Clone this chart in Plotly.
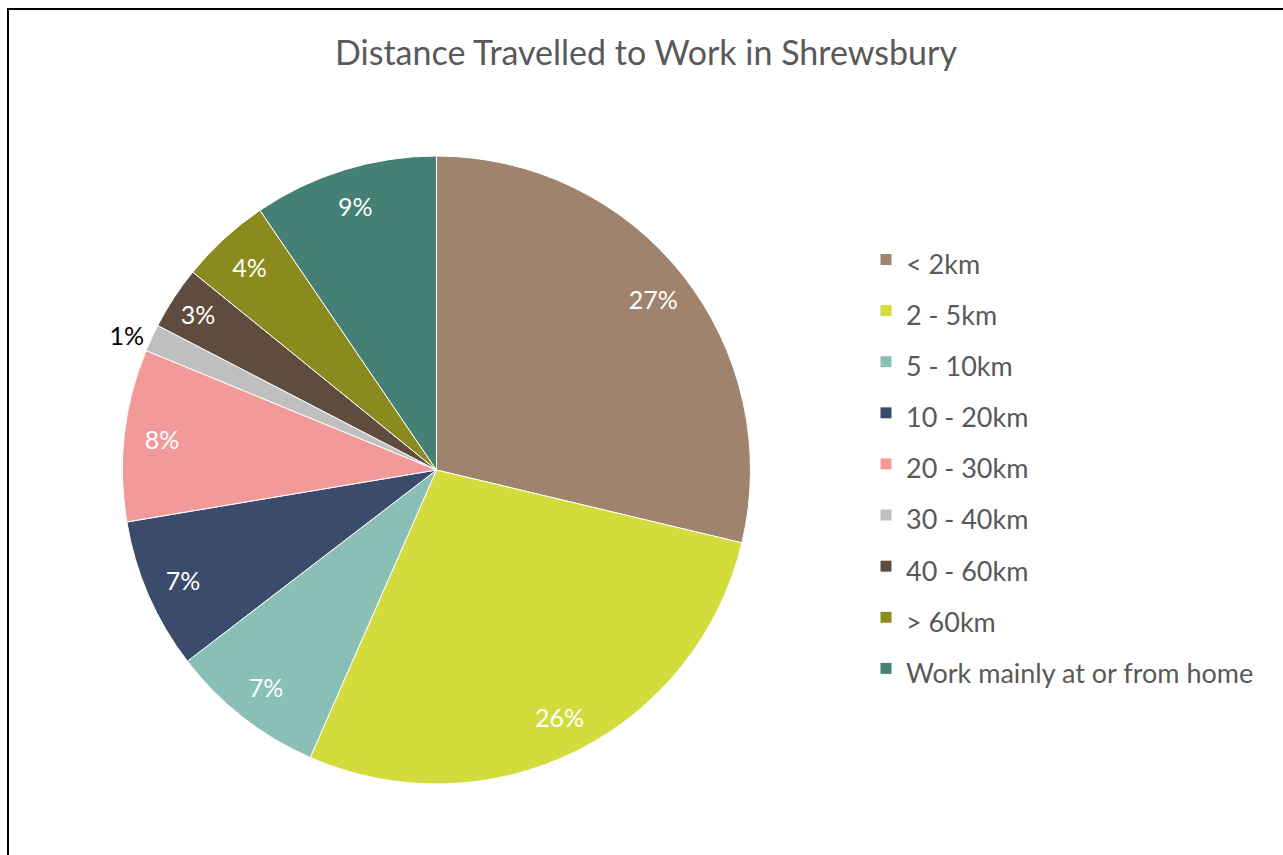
import plotly.graph_objects as go

categories = ["< 2km", "2 - 5km", "5 - 10km", "10 - 20km", "20 - 30km",
              "30 - 40km", "40 - 60km", "> 60km", "Work mainly at or from home"]
# share of all working residents (%) - slices normalise these
values = [26.6, 25.8, 7.4, 7.2, 8.2, 1.3, 3.0, 4.3, 8.8]
colors = ["#A0836D", "#D4DB3D", "#8ABFB5", "#3A4B6B", "#F29A9A",
          "#BFBFBF", "#5E4C3E", "#8A8A1F", "#458075"]

W, H = 1283, 855
labels_text = [f"{round(v)}%" for v in values]
text_pos = ["outside" if v < 2 else "inside" for v in values]
text_col = ["#000000" if v < 2 else "#FFFFFF" for v in values]
legend_names = [f"<span style='font-size:27px'>{c}</span>" for c in categories]

dom = dict(x=[(436.5 - 314) / W, (436.5 + 314) / W],
           y=[(855 - 470 - 314) / H, (855 - 470 + 314) / H])

fig = go.Figure()
# coloured slices + legend
fig.add_trace(go.Pie(
    labels=legend_names,
    values=values,
    textinfo="none",
    marker=dict(colors=colors, line=dict(color="#FFFFFF", width=1)),
    sort=False,
    direction="clockwise",
    rotation=0,
    domain=dom,
    automargin=False,
))
# transparent ring carrying the data labels near the rim
fig.add_trace(go.Pie(
    labels=categories,
    values=values,
    text=labels_text,
    textinfo="text",
    textposition=text_pos,
    insidetextorientation="horizontal",
    textfont=dict(family="Lato, sans-serif", size=25, color=text_col),
    marker=dict(colors=["rgba(0,0,0,0)"] * len(values),
                line=dict(color="rgba(0,0,0,0)", width=0)),
    hole=0.76,
    sort=False,
    direction="clockwise",
    rotation=0,
    domain=dom,
    showlegend=False,
    hoverinfo="skip",
    automargin=False,
))

fig.update_layout(
    width=W, height=H,
    margin=dict(l=0, r=0, t=0, b=0),
    paper_bgcolor="white",
    plot_bgcolor="white",
    uniformtext=dict(minsize=25, mode="show"),
    title=dict(text="Distance Travelled to Work in Shrewsbury",
               x=646 / W, xanchor="center", y=1 - 53 / H, yanchor="middle",
               font=dict(family="Lato, sans-serif", size=34, color="#595959")),
    legend=dict(x=866 / W, xanchor="left", y=1 - 229 / H, yanchor="top",
                font=dict(family="Lato, sans-serif", size=37, color="#595959"),
                bgcolor="rgba(0,0,0,0)"),
    shapes=[dict(type="path", xref="paper", yref="paper",
                 path=f"M 1.2,{1 - 9 / H} L {8 / W},{1 - 9 / H} L {8 / W},-0.2",
                 line=dict(color="#000000", width=2))],
)

fig.write_html("out.html")
